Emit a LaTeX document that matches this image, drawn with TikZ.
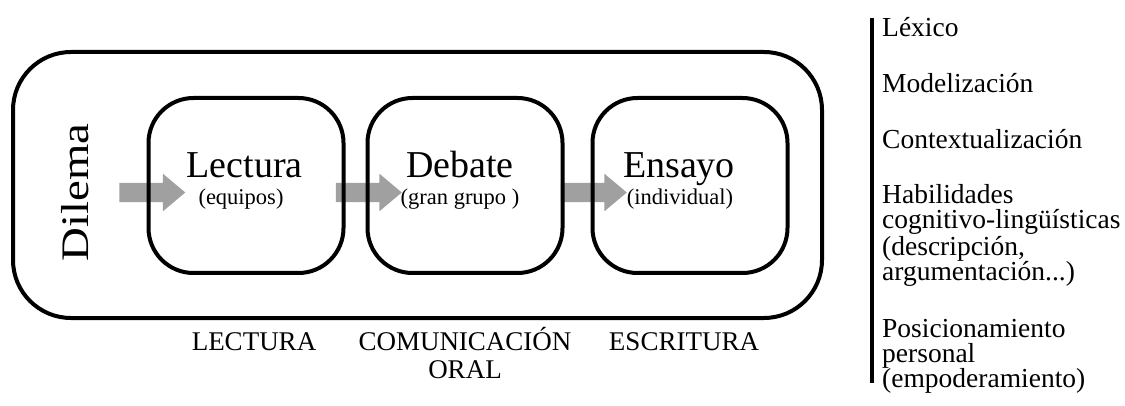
\documentclass[tikz,border=0pt]{standalone}
\usepackage{fontspec}
\setmainfont{Liberation Serif}
\usepackage{xcolor}
\usepackage{graphicx}
\usepackage{tikz}
\usetikzlibrary{positioning,shapes.arrows,backgrounds}
\definecolor{flechagris}{RGB}{160,160,160}

\begin{document}
\begin{tikzpicture}[x=1pt,y=-1pt]
	\tikzstyle{etapa}=[draw, line width=4pt, rounded corners=45pt, minimum width=195pt, minimum height=175pt, inner sep=0pt]
	\tikzstyle{flecha}=[single arrow, fill=flechagris, inner xsep=0pt, inner ysep=9.5pt, minimum height=66pt, single arrow head extend=9pt, single arrow tip angle=80]
	\tikzstyle{titulo}=[font=\fontsize{38}{40}\selectfont, anchor=base, inner sep=0pt]
	\tikzstyle{sub}=[font=\fontsize{22.5}{24}\selectfont, anchor=base, inner sep=0pt]
	\tikzstyle{eje}=[font=\fontsize{27}{28}\selectfont, align=center, anchor=base, inner sep=0pt]
	\tikzstyle{lista}=[font=\fontsize{27.5}{25}\selectfont, align=left, anchor=base west, inner sep=0pt]

	\useasboundingbox (0,0) rectangle (1125,406);

	%Outer frame
	\node[draw, line width=4pt, rounded corners=58pt, minimum width=809pt, minimum height=266pt, inner sep=0pt] (marco) at (417.5,185) {};
	\node[rotate=90, anchor=base, inner sep=0pt, font=\fontsize{39}{40}\selectfont] (dilema) at (88,192.5) {\scalebox{1.2}[1]{Dilema}};

	%Stages
	\node[etapa] (lectura) at (246,185.5) {};
	\node[etapa, right=20pt of lectura] (debate) {};
	\node[etapa, right=26pt of debate] (ensayo) {};

	\node[titulo] (lecturaT) at (244.5,178) {Lectura};
	\node[sub] (lecturaS) at (241,205) {(equipos)};
	\node[titulo] (debateT) at (460,178) {Debate};
	\node[sub] (debateS) at (460,205) {(gran grupo )};
	\node[titulo] (ensayoT) at (679,178) {Ensayo};
	\node[sub] (ensayoS) at (680,205) {(individual)};

	%Arrows
	\begin{scope}[on background layer]
		\node[flecha, yshift=-7pt] (flechaA) at (lectura.west) {};
		\node[flecha, yshift=-7pt, xshift=-2.5pt] (flechaB) at (debate.west) {};
		\node[flecha, yshift=-7pt, xshift=-2.5pt] (flechaC) at (ensayo.west) {};
	\end{scope}

	%Axes
	\node[eje] (ejeL) at (254,350) {LECTURA};
	\node[eje] (ejeC) at (465,378) {COMUNICACIÓN\\ORAL};
	\node[eje] (ejeE) at (684,350) {ESCRITURA};

	%List
	\draw[line width=4pt] (872,18) -- (872,383);
	\node[lista] (lexico) at (882,37) {Léxico};
	\node[lista] (modelo) at (882,93) {Modelización};
	\node[lista] (contexto) at (882,149) {Contextualización};
	\node[lista] (habilidades) at (882,280) {Habilidades\\cognitivo-lingüísticas\\(descripción,\\argumentación...)};
	\node[lista] (posicion) at (882,387) {Posicionamiento\\personal\\(empoderamiento)};
\end{tikzpicture}
\end{document}
